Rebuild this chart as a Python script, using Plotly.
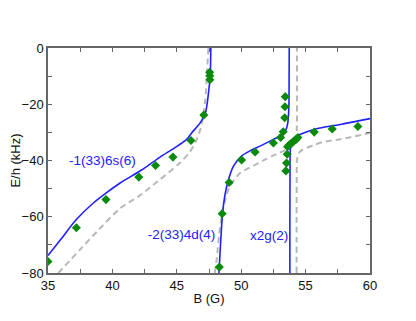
import plotly.graph_objects as go

# Blue (solid) curves
blue1_B = [35.0, 36.0, 37.2, 38.5, 39.5, 40.6, 42.3, 43.7, 44.8, 45.75, 46.15, 46.8, 47.2, 47.46, 47.6, 47.64]
blue1_E = [-73.8, -68.0, -61.0, -55.2, -51.6, -48.0, -43.3, -38.8, -35.6, -32.6, -30.2, -26.7, -23.5, -16.0, -9.0, 0.0]

blue2_B = [48.27, 48.4, 48.55, 48.75, 49.0, 49.4, 50.0, 50.7, 51.5, 52.5, 53.1, 53.45, 53.62, 53.7, 53.72, 53.73]
blue2_E = [-80.0, -69.5, -59.0, -52.0, -47.0, -42.0, -38.5, -36.5, -34.8, -32.5, -31.0, -29.3, -26.5, -21.0, -10.0, 0.0]

blue3_B = [53.78, 53.78, 53.79, 53.8, 53.85, 54.0, 54.3, 54.8, 55.7, 56.5, 57.8, 59.0, 60.0]
blue3_E = [-80.0, -60.0, -45.0, -38.0, -34.5, -32.5, -31.3, -30.3, -28.9, -28.1, -27.1, -26.0, -25.1]

# Gray (dashed) curves
gray1_B = [35.8, 37.5, 38.9, 40.6, 42.1, 43.5, 45.2, 46.0, 46.5, 46.85, 47.2, 47.35, 47.45]
gray1_E = [-80.0, -71.6, -64.8, -57.0, -52.5, -47.5, -41.0, -37.0, -33.0, -28.5, -19.0, -8.0, 0.0]

gray2_B = [47.95, 48.1, 48.35, 48.7, 49.1, 49.9, 50.9, 51.8, 52.7, 53.4, 53.95, 54.25, 54.32, 54.33]
gray2_E = [-80.0, -75.0, -64.0, -55.0, -49.5, -44.5, -42.0, -39.8, -37.8, -36.4, -35.0, -33.0, -28.0, 0.0]

gray3_B = [54.3, 54.3, 54.31, 54.33, 54.45, 54.75, 55.6, 56.3, 57.6, 58.4, 60.0]
gray3_E = [-80.0, -60.0, -45.0, -40.0, -37.5, -36.2, -34.6, -33.5, -32.5, -31.8, -30.2]

# Measured points (green diamonds)
meas_B = [35.0, 37.2, 39.5, 42.05, 43.35, 44.7, 46.1, 47.1, 47.55, 47.56, 47.57,
          48.3, 48.52, 49.06, 50.03, 51.08, 52.5, 53.06, 53.26, 53.38, 53.4, 53.42,
          53.6, 53.7, 53.88, 54.06, 54.24, 54.4, 53.57, 53.52, 53.47, 55.67, 57.07, 59.06]
meas_E = [-75.9, -63.9, -53.9, -45.9, -41.8, -38.8, -32.9, -23.8, -8.6, -9.9, -11.3,
          -77.9, -58.9, -47.8, -39.8, -37.0, -33.8, -31.8, -29.8, -24.8, -20.9, -17.3,
          -35.1, -34.6, -33.9, -33.2, -32.6, -31.8, -37.8, -40.9, -43.7, -29.9, -28.8, -27.9]

labels = ["-1(33)6s(6)", "-2(33)4d(4)", "x2g(2)"]
label_B = [39.23, 45.36, 52.16]
label_E = [-40.3, -66.7, -67.2]

x_ticks = [35, 40, 45, 50, 55, 60]
y_ticks = [-80, -60, -40, -20, 0]

BLUE = "#2121ff"
GRAY = "#b8b8b8"
GREEN = "#0a8a0a"
FONT = "Liberation Sans, Arial"

fig = go.Figure()
for bx, by in [(gray1_B, gray1_E), (gray2_B, gray2_E), (gray3_B, gray3_E)]:
    fig.add_trace(go.Scatter(x=bx, y=by, mode="lines",
                             line=dict(color=GRAY, width=2, dash="6px,4px", shape="spline", smoothing=0.8),
                             showlegend=False, hoverinfo="skip"))
for bx, by in [(blue1_B, blue1_E), (blue2_B, blue2_E), (blue3_B, blue3_E)]:
    fig.add_trace(go.Scatter(x=bx, y=by, mode="lines",
                             line=dict(color=BLUE, width=1.6, shape="spline", smoothing=0.8),
                             showlegend=False, hoverinfo="skip"))
fig.add_trace(go.Scatter(x=meas_B, y=meas_E, mode="markers",
                         marker=dict(symbol="diamond", size=7, color=GREEN),
                         showlegend=False))
fig.add_trace(go.Scatter(x=label_B, y=label_E, mode="text", text=labels,
                         textfont=dict(color=BLUE, size=13.5, family=FONT),
                         showlegend=False, hoverinfo="skip"))

axis_common = dict(
    showgrid=False, zeroline=False, showline=True, linecolor="#666666", linewidth=1.5,
    mirror="ticks", ticks="inside", ticklen=4, tickcolor="#666666", tickwidth=1,
    tickfont=dict(size=13, color="#111111", family=FONT), automargin=False,
)
fig.update_xaxes(range=[35, 60], tickvals=x_ticks, **axis_common,
                 minor=dict(dtick=2.5, ticks="inside", ticklen=4, tickcolor="#666666"),
                 title=dict(text="B (G)", font=dict(size=13, color="#111111", family=FONT), standoff=2))
fig.update_yaxes(range=[-80, 0], tickvals=y_ticks, **axis_common,
                 minor=dict(dtick=10, ticks="inside", ticklen=4, tickcolor="#666666"),
                 title=dict(text="E/h (kHz)", font=dict(size=13, color="#111111", family=FONT), standoff=2))
fig.update_layout(width=416, height=321, plot_bgcolor="white", paper_bgcolor="white",
                  margin=dict(l=40, r=54, t=40, b=56, autoexpand=False))
fig.write_html("out.html")
